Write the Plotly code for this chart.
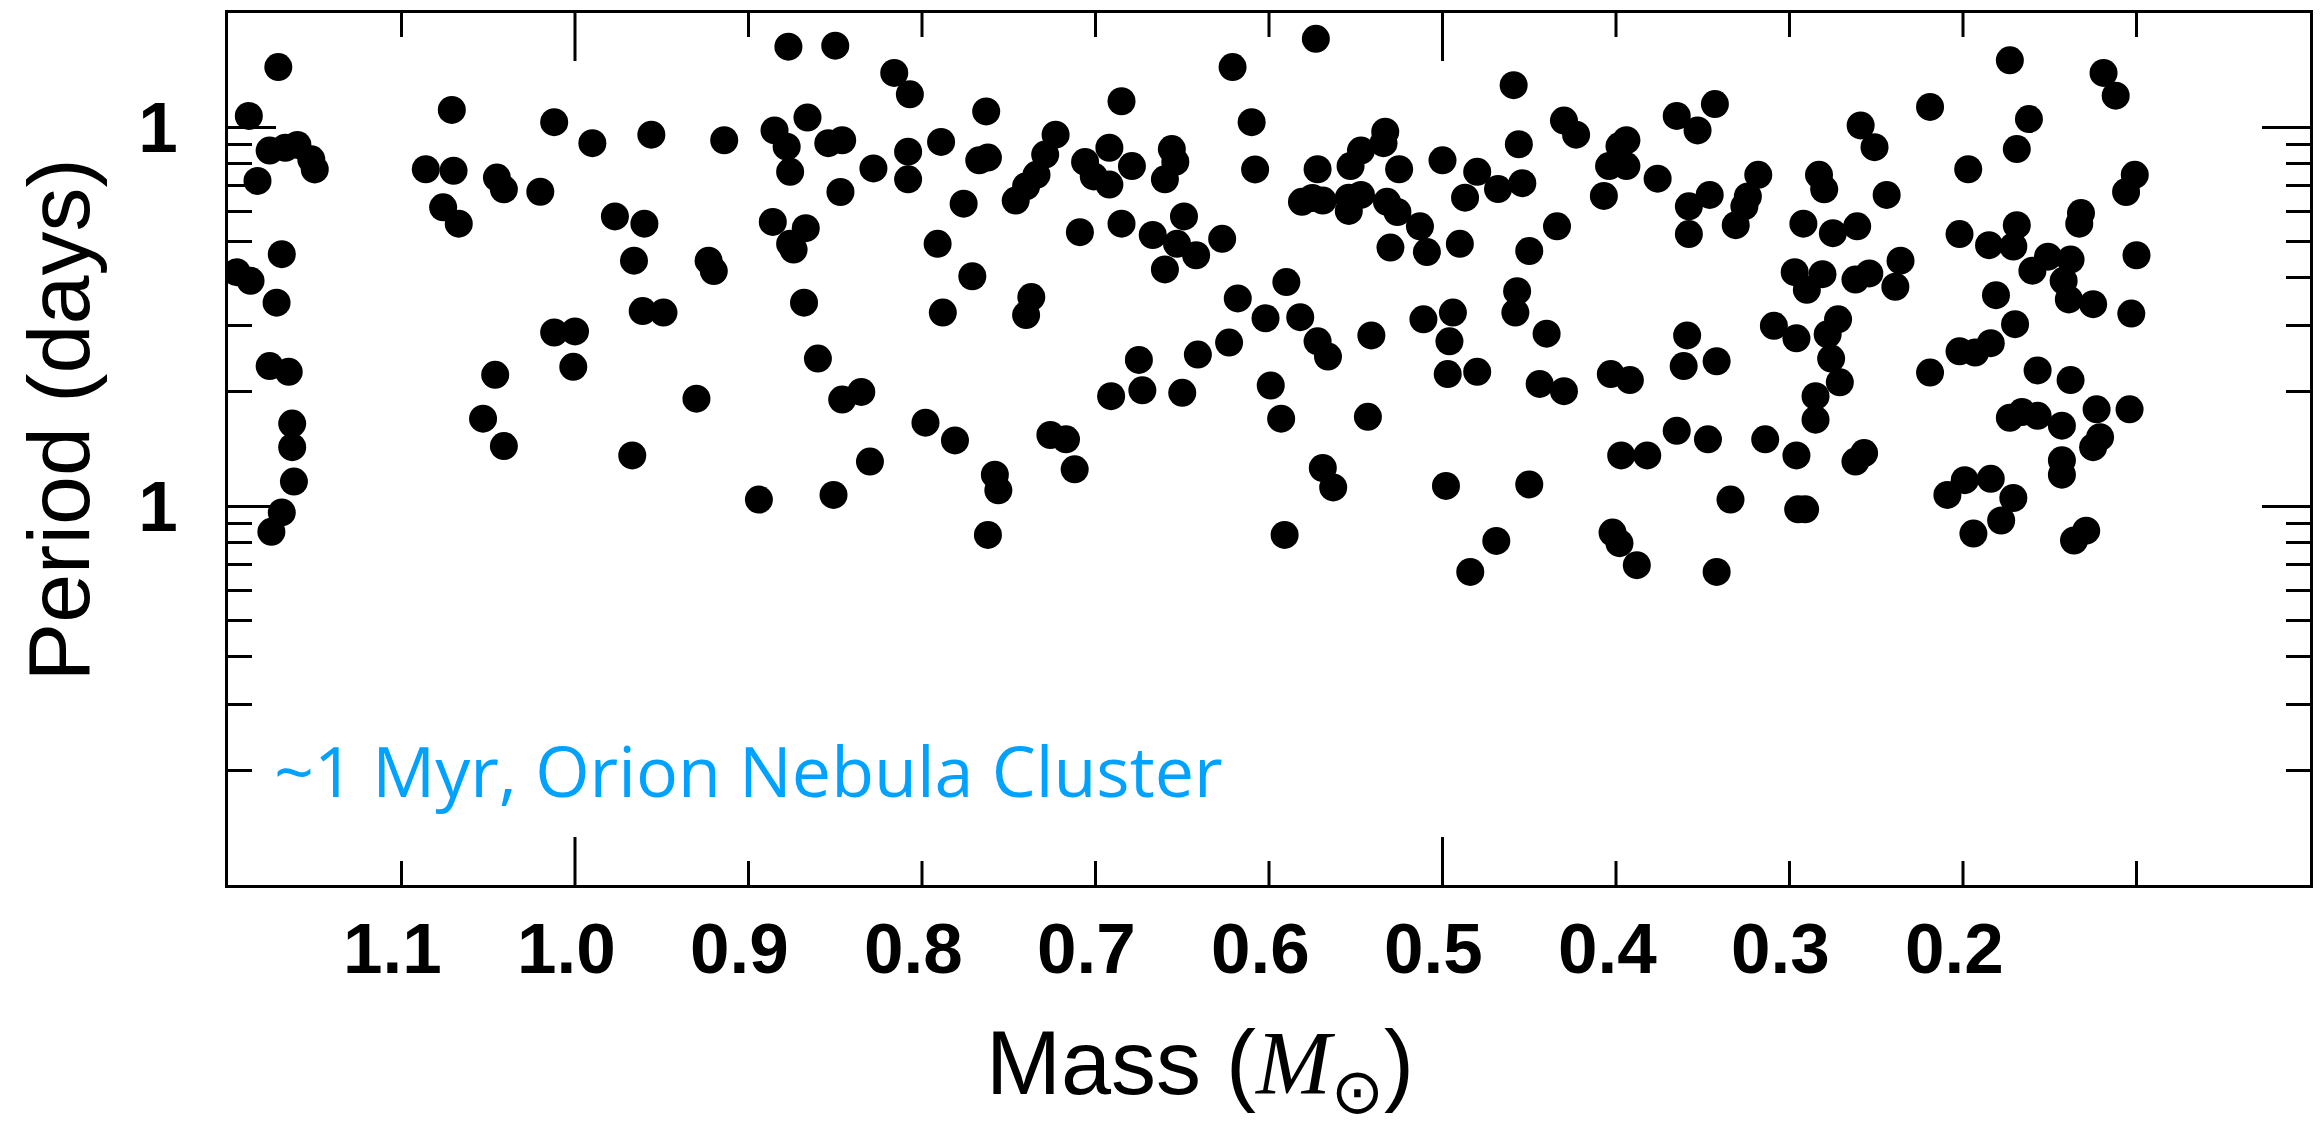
import plotly.graph_objects as go

# ---- data: stellar mass (solar masses) and rotation period (days) ----
mass_hi = [1.171, 1.188, 1.176, 1.167, 1.160, 1.152, 1.150, 1.183, 1.169, 1.195, 1.187, 1.172,
           1.176, 1.165, 1.163, 1.163, 1.162, 1.169, 1.175,
           1.071, 1.086, 1.070, 1.045, 1.041, 1.076, 1.067, 1.012, 0.990, 1.020, 1.046, 1.053,
           1.041, 1.012, 1.000, 1.001, 0.956, 0.914, 0.977, 0.960, 0.966, 0.923, 0.920, 0.961,
           0.949, 0.930, 0.967, 0.894]
period_hi = [14.4, 10.7, 8.67, 8.82, 8.97, 8.22, 7.73, 7.21, 4.62, 4.14, 3.93, 3.44,
             2.34, 2.26, 1.65, 1.43, 1.16, 0.962, 0.855,
             11.1, 7.74, 7.67, 7.36, 6.85, 6.14, 5.56, 10.3, 9.07, 6.75, 2.22, 1.70,
             1.44, 2.87, 2.89, 2.33, 9.55, 9.23, 5.81, 5.56, 4.44, 4.44, 4.17, 3.27,
             3.24, 1.92, 1.36, 1.04]

mass_mid = [0.877, 0.850, 0.816, 0.621, 0.807, 0.685, 0.866, 0.763, 0.610, 0.885, 0.878, 0.854,
            0.846, 0.876, 0.828, 0.808, 0.808, 0.789, 0.847, 0.767, 0.762, 0.776, 0.723, 0.729,
            0.734, 0.740, 0.746, 0.706, 0.692, 0.701, 0.692, 0.679, 0.656, 0.654, 0.660, 0.608,
            0.886, 0.867, 0.876, 0.874, 0.791, 0.709, 0.685, 0.667, 0.649, 0.653, 0.642, 0.660,
            0.627, 0.771, 0.868, 0.788, 0.737, 0.740, 0.618, 0.602, 0.860, 0.846, 0.835, 0.675,
            0.691, 0.673, 0.650, 0.641, 0.623, 0.599, 0.798, 0.781, 0.830, 0.726, 0.717, 0.712,
            0.758, 0.756, 0.851, 0.762, 0.593]
period_mid = [16.3, 16.4, 13.9, 14.4, 12.2, 11.7, 10.6, 11.0, 10.3, 9.8, 8.88, 9.07,
              9.23, 7.62, 7.78, 8.61, 7.28, 9.14, 6.74, 8.17, 8.31, 6.28, 9.55, 8.46,
              7.48, 6.98, 6.40, 8.09, 8.82, 7.41, 7.05, 7.89, 8.75, 8.09, 7.28, 7.73,
              5.62, 5.41, 4.92, 4.75, 4.92, 5.28, 5.56, 5.19, 5.81, 4.92, 4.59, 4.21,
              5.07, 4.04, 3.44, 3.24, 3.56, 3.19, 3.53, 3.13, 2.45, 1.91, 2.00, 2.43,
              1.95, 2.02, 1.99, 2.51, 2.70, 2.08, 1.66, 1.49, 1.31, 1.54, 1.50, 1.25,
              1.21, 1.10, 1.07, 0.839, 1.70]

mass_low = [0.573, 0.459, 0.343, 0.365, 0.353, 0.430, 0.423, 0.394, 0.398, 0.404, 0.394, 0.407,
            0.376, 0.318, 0.324, 0.326, 0.331, 0.346, 0.358, 0.358, 0.533, 0.534, 0.547, 0.553,
            0.572, 0.525, 0.500, 0.456, 0.480, 0.454, 0.468, 0.487, 0.581, 0.569, 0.575, 0.554,
            0.554, 0.547, 0.532, 0.526, 0.513, 0.530, 0.509, 0.490, 0.434, 0.450, 0.590, 0.582,
            0.572, 0.566, 0.541, 0.511, 0.494, 0.496, 0.497, 0.480, 0.457, 0.458, 0.440, 0.444,
            0.430, 0.403, 0.392, 0.359, 0.361, 0.342, 0.309, 0.365, 0.347, 0.314, 0.397, 0.382,
            0.543, 0.569, 0.563, 0.498, 0.450, 0.334, 0.591, 0.469, 0.484, 0.402, 0.398, 0.388,
            0.342]
period_low = [17.1, 12.9, 11.5, 10.7, 9.8, 10.4, 9.55, 9.23, 8.91, 7.89, 7.89, 6.58,
              7.31, 7.48, 6.56, 6.18, 5.51, 6.62, 6.18, 5.22, 9.72, 9.07, 8.67, 7.89,
              7.74, 7.74, 8.17, 9.01, 7.62, 7.11, 6.86, 6.51, 6.35, 6.40, 6.50, 6.51,
              6.01, 6.62, 6.35, 5.97, 5.47, 4.81, 4.68, 4.92, 5.47, 4.71, 3.90, 3.15,
              2.72, 2.48, 2.82, 3.11, 3.24, 2.72, 2.23, 2.26, 3.69, 3.24, 2.85, 2.10,
              2.01, 2.23, 2.15, 2.82, 2.34, 2.41, 2.99, 1.58, 1.50, 1.50, 1.36, 1.36,
              1.72, 1.26, 1.12, 1.13, 1.14, 1.04, 0.839, 0.809, 0.670, 0.851, 0.798, 0.698,
              0.670]

mass_vlow = [0.173, 0.119, 0.112, 0.219, 0.162, 0.259, 0.251, 0.169, 0.197, 0.283, 0.280, 0.244,
             0.101, 0.106, 0.292, 0.275, 0.261, 0.202, 0.169, 0.185, 0.171, 0.132, 0.133, 0.100,
             0.297, 0.290, 0.281, 0.262, 0.254, 0.236, 0.239, 0.151, 0.160, 0.138, 0.142, 0.139,
             0.125, 0.103, 0.181, 0.170, 0.296, 0.278, 0.272, 0.276, 0.271, 0.285, 0.285, 0.202,
             0.193, 0.184, 0.219, 0.157, 0.138, 0.173, 0.166, 0.157, 0.143, 0.123, 0.104, 0.121,
             0.125, 0.143, 0.143, 0.296, 0.262, 0.257, 0.295, 0.291, 0.209, 0.199, 0.184, 0.171,
             0.194, 0.178, 0.136, 0.129]
period_vlow = [15.0, 13.9, 12.1, 11.3, 10.5, 10.1, 8.85, 8.75, 7.74, 7.48, 6.85, 6.62,
               7.48, 6.74, 5.56, 5.25, 5.47, 5.22, 5.51, 4.88, 4.84, 5.93, 5.56, 4.59,
               4.14, 3.72, 4.09, 3.96, 4.11, 4.44, 3.79, 4.55, 4.18, 4.47, 3.93, 3.51,
               3.41, 3.22, 3.60, 3.02, 2.77, 2.84, 3.11, 2.45, 2.12, 1.95, 1.69, 2.56,
               2.54, 2.69, 2.25, 2.28, 2.15, 1.71, 1.77, 1.73, 1.63, 1.80, 1.80, 1.52,
               1.43, 1.32, 1.21, 1.36, 1.31, 1.38, 0.98, 0.98, 1.07, 1.17, 1.18, 1.05,
               0.846, 0.916, 0.811, 0.861]

mass = mass_hi + mass_mid + mass_low + mass_vlow
period = period_hi + period_mid + period_low + period_vlow

x_label_vals = [1.1, 1.0, 0.9, 0.8, 0.7, 0.6, 0.5, 0.4, 0.3, 0.2]
x_label_text = ["1.1", "1.0", "0.9", "0.8", "0.7", "0.6", "0.5", "0.4", "0.3", "0.2"]
x_minor_vals = [1.1, 0.9, 0.8, 0.7, 0.6, 0.4, 0.3, 0.2, 0.1]
x_major_vals = [1.0, 0.5]
y_major_vals = [1, 10]
y_major_text = ["1", "1"]
y_minor_vals = [0.2, 0.3, 0.4, 0.5, 0.6, 0.7, 0.8, 0.9, 2, 3, 4, 5, 6, 7, 8, 9]

# ---- geometry / style ----
W, H = 2321, 1126
M_L, M_R, M_T, M_B = 228, 8, 13, 241
PLOT_H = H - M_T - M_B
MINOR_LEN, MAJOR_LEN, TICK_W = 24, 48, 3

fig = go.Figure()
fig.add_trace(go.Scatter(
    x=mass, y=period, mode="markers",
    marker=dict(color="black", size=28, line=dict(width=0)),
    showlegend=False, hoverinfo="x+y"))

# x-axis tick marks (inside, on bottom and mirrored on top), placed at the tick values
tick_shapes = []
for vals, ln in ((x_minor_vals, MINOR_LEN), (x_major_vals, MAJOR_LEN)):
    frac = ln / PLOT_H
    for v in vals:
        for y0, y1 in ((0, frac), (1, 1 - frac)):
            tick_shapes.append(dict(type="line", xref="x", yref="paper", x0=v, x1=v,
                                    y0=y0, y1=y1, line=dict(color="#000000", width=TICK_W),
                                    layer="above"))

tick_font = dict(family="Liberation Sans, Arial, sans-serif", size=71, color="black", weight="bold")

# x tick labels, one per tick value
label_annots = [dict(text=t, x=v, xref="x", y=0, yref="paper", xanchor="center", yanchor="top",
                     yshift=-22, xshift=-9, showarrow=False, font=tick_font)
                for v, t in zip(x_label_vals, x_label_text)]

fig.update_layout(
    width=W, height=H,
    margin=dict(l=M_L, r=M_R, t=M_T, b=M_B),
    paper_bgcolor="white", plot_bgcolor="white",
    shapes=tick_shapes,
    xaxis=dict(
        range=[1.2, 0.0], showticklabels=False,
        ticks="", showline=True, linewidth=3, linecolor="black", mirror=True,
        showgrid=False, zeroline=False),
    yaxis=dict(
        type="log", range=[-1, 1.30103], tickmode="array",
        tickvals=y_major_vals, ticktext=y_major_text,
        ticks="inside", ticklen=MAJOR_LEN, tickwidth=TICK_W, tickcolor="black",
        minor=dict(tickmode="array", tickvals=y_minor_vals, ticks="inside", ticklen=MINOR_LEN,
                   tickwidth=TICK_W, tickcolor="black", showgrid=False),
        showline=True, linewidth=3, linecolor="black", mirror="ticks",
        showgrid=False, zeroline=False, tickfont=tick_font, ticklabelstandoff=33),
    annotations=label_annots + [
        dict(text="~1 Myr, Orion Nebula Cluster", xref="paper", yref="paper",
             x=0.0211, y=0.132, xanchor="left", yanchor="middle", showarrow=False,
             font=dict(family="Open Sans, sans-serif", size=70, color="#00A2FF")),
        dict(text="Mass (<i><span style=\"font-family:Liberation Serif\">M</span></i><sub>⊙</sub>)",
             xref="paper", yref="paper", x=0.4667, y=-0.212, xanchor="center", yanchor="middle",
             showarrow=False,
             font=dict(family="Liberation Sans, Arial, sans-serif", size=90, color="black")),
        dict(text="Period (days)", textangle=-90, xref="paper", yref="paper",
             x=-0.0815, y=0.533, xanchor="center", yanchor="middle", showarrow=False,
             font=dict(family="Liberation Sans, Arial, sans-serif", size=88, color="black")),
    ],
)

fig.write_html("out.html")
